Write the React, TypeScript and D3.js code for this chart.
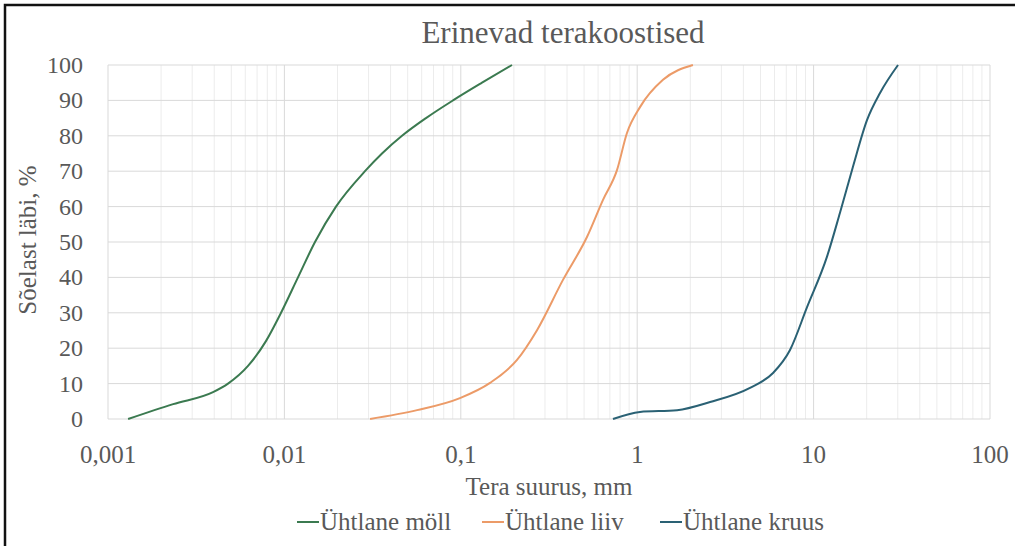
import React from 'react';
import * as d3 from 'd3';

const W = 1015;
const H = 546;

const title = 'Erinevad terakoostised';
const xTitle = 'Tera suurus, mm';
const yTitle = 'Sõelast läbi, %';

const xTickValues = [0.001, 0.01, 0.1, 1, 10, 100];
const xTickLabels = ['0,001', '0,01', '0,1', '1', '10', '100'];
const yTickValues = [0, 10, 20, 30, 40, 50, 60, 70, 80, 90, 100];

const mollName = 'Ühtlane möll';
const mollSize = [0.0013, 0.00234, 0.00394, 0.00479, 0.00622, 0.00786, 0.00957, 0.01194, 0.01491, 0.01961, 0.02863, 0.03575, 0.04642, 0.06349, 0.09033, 0.1319, 0.1951];
const mollPass = [0, 4.2, 7.6, 10, 15, 22, 30, 40, 50, 60, 70, 75, 80, 85, 90, 95, 100];

const liivName = 'Ühtlane liiv';
const liivSize = [0.0306, 0.0565, 0.0989, 0.1465, 0.2083, 0.2704, 0.3795, 0.519, 0.64, 0.768, 0.875, 1.037, 1.4, 2.07];
const liivPass = [0, 2.5, 5.9, 10.2, 16.7, 25.1, 39.3, 51.4, 61.9, 70.3, 80.8, 88.1, 95.8, 100];

const kruusName = 'Ühtlane kruus';
const kruusSize = [0.729, 1.037, 1.683, 2.59, 4.36, 5.89, 7.35, 9.18, 11.9, 14.1, 16.7, 20.1, 23.8, 30.1];
const kruusPass = [0, 2, 2.5, 4.8, 8.8, 13, 19.5, 31.6, 45.8, 58.2, 71.2, 84.5, 92.1, 100];

const seriesNames = [mollName, liivName, kruusName];
const seriesColors = ['#3b7a50', '#ec9b68', '#2a6174'];

export default function App() {
  const left = 108, right = 990, top = 65, bottom = 419;
  const x = d3.scaleLog().domain([0.001, 100]).range([left, right]);
  const y = d3.scaleLinear().domain([0, 100]).range([bottom, top]);

  const series = [
    { name: mollName, xs: mollSize, ys: mollPass },
    { name: liivName, xs: liivSize, ys: liivPass },
    { name: kruusName, xs: kruusSize, ys: kruusPass },
  ];

  const line = d3
    .line<[number, number]>()
    .x((d) => x(d[0]))
    .y((d) => y(d[1]))
    .curve(d3.curveMonotoneX);

  const minor: number[] = [];
  for (let e = -3; e < 2; e++) {
    for (let m = 2; m <= 9; m++) minor.push(m * Math.pow(10, e));
  }

  const font = '"Liberation Serif", "Times New Roman", serif';
  const textColor = '#595959';
  const legendX = [297, 482, 660];

  return (
    <svg width={W} height={H} style={{ position: 'absolute', left: 0, top: 0, background: '#fff' }}>
      <rect x={0} y={0} width={W} height={H} fill="#fff" />
      <rect x={5} y={5} width={W + 20} height={H + 20} fill="none" stroke="#111" strokeWidth={2.5} />
      <text x={563} y={43} textAnchor="middle" fontFamily={font} fontSize={31} fill={textColor}>
        {title}
      </text>
      {minor.map((v, i) => (
        <line key={'mn' + i} x1={x(v)} x2={x(v)} y1={top} y2={bottom} stroke="#ececec" strokeWidth={1} />
      ))}
      {xTickValues.map((v, i) => (
        <line key={'mj' + i} x1={x(v)} x2={x(v)} y1={top} y2={bottom} stroke="#d9d9d9" strokeWidth={1} />
      ))}
      {yTickValues.map((v, i) => (
        <line key={'h' + i} x1={left} x2={right} y1={y(v)} y2={y(v)} stroke="#d9d9d9" strokeWidth={1} />
      ))}
      {series.map((s, i) => (
        <path
          key={'s' + i}
          d={line(s.xs.map((v, j) => [v, s.ys[j]] as [number, number])) || ''}
          fill="none"
          stroke={seriesColors[i]}
          strokeWidth={2}
        />
      ))}
      {yTickValues.map((v, i) => (
        <text key={'yt' + i} x={83} y={y(v) + 8} textAnchor="end" fontFamily={font} fontSize={24} fill={textColor}>
          {v}
        </text>
      ))}
      {xTickValues.map((v, i) => (
        <text key={'xt' + i} x={x(v)} y={463} textAnchor="middle" fontFamily={font} fontSize={25} fill={textColor}>
          {xTickLabels[i]}
        </text>
      ))}
      <text x={549} y={495} textAnchor="middle" fontFamily={font} fontSize={25} fill={textColor}>
        {xTitle}
      </text>
      <text
        transform={`translate(36, 240) rotate(-90)`}
        textAnchor="middle"
        fontFamily={font}
        fontSize={25}
        fill={textColor}
      >
        {yTitle}
      </text>
      {seriesNames.map((n, i) => (
        <g key={'lg' + i} transform={`translate(${legendX[i]}, 522)`}>
          <line x1={0} x2={22} y1={0} y2={0} stroke={seriesColors[i]} strokeWidth={2} />
          <text x={23} y={8} fontFamily={font} fontSize={25} fill={textColor}>
            {n}
          </text>
        </g>
      ))}
    </svg>
  );
}
